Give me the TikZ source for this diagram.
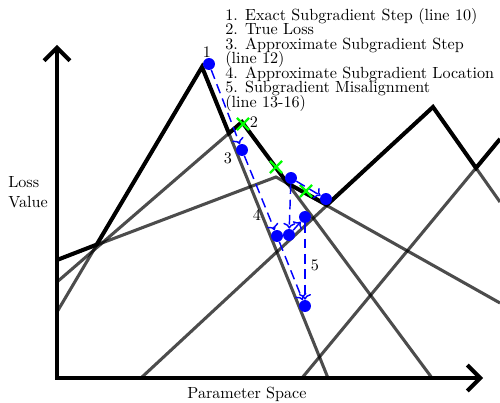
\documentclass[tikz,border=0pt]{standalone}
\usetikzlibrary{arrows.meta,shapes.misc}

\newcommand*{\xmin}{57}
\newcommand*{\xmax}{483}
\newcommand*{\ymin}{378}
\newcommand*{\ymax}{45}

\begin{document}
\begin{tikzpicture}
[
	x=0.62pt, y=-0.62pt,
	loss/.style={line width=2.5pt},
	piece/.style={line width=1.9pt,draw=black,draw opacity=0.7},
	barb/.tip={Straight Barb[length=8pt,width=16pt]},
	bluept/.style={circle,fill=blue,inner sep=0pt,minimum size=7.4pt},
	greenpt/.style={cross out,draw=green,line width=1.5pt,inner sep=0pt,minimum size=6pt},
	stepline/.style={->,blue,line width=0.9pt,dash pattern=on 6pt off 3.5pt}
]
	\useasboundingbox (0,0) rectangle (500,403);

	% linear pieces
	\draw[piece] (57,312) -- (202,67) -- (328,378);
	\draw[piece] (57,282) -- (242,122) -- (432,378);
	\draw[piece] (57,260) -- (276,177) -- (500,303);
	\draw[piece] (141,378) -- (433,107) -- (500,202);
	\draw[piece] (302,378) -- (500,139);

	% true loss
	\draw[loss] (57,260) -- (96.7,244.6) -- (202,67) -- (228.9,133.3) -- (242,122)
		-- (287.5,183.3) -- (326.9,204.9) -- (433,107) -- (476,168) -- (500,139);

	% axes
	\draw[line width=2.5pt,barb-barb] (\xmin,\ymax) -- (\xmin,\ymin) -- (\xmax,\ymin);
	\node (xlab) at (247,394) {Parameter Space};
	\node[align=left] (ylab) at (28,192) {Loss\\Value};

	% legend
	\node[anchor=north west,align=left,inner sep=0pt,
		font={\fontsize{10}{9}\selectfont\lineskiplimit=-10pt}] (legend) at (225,8)
		{1. Exact Subgradient Step (line 10)\\
		 2. True Loss\\
		 3. Approximate Subgradient Step\\
		 (line 12)\\
		 4. Approximate Subgradient Location\\
		 5. Subgradient Misalignment\\
		 (line 13-16)};

	% true loss points
	\node[greenpt] (g1) at (243,124) {};
	\node[greenpt] (g2) at (276,167) {};
	\node[greenpt] (g3) at (306,191) {};

	% iterates
	\node[bluept] (p1) at (209,64) {};
	\node[bluept] (p3) at (242,150) {};
	\node[bluept] (q1) at (277,236) {};
	\node[bluept] (q2) at (289,235) {};
	\node[bluept] (s) at (291,178) {};
	\node[bluept] (t) at (326,199) {};
	\node[bluept] (u) at (305,217) {};
	\node[bluept] (r) at (305,306) {};

	\draw[stepline] (p1) -- (p3);
	\draw[stepline] (p3) -- (q1);
	\draw[stepline] (q1) -- (r);
	\draw[stepline] (s) -- (q2);
	\draw[stepline] (s) -- (t);
	\draw[stepline] (q2) -- (u);
	\draw[stepline] (u) -- (r);

	% numbers
	\node (n1) at (207,52) {1};
	\node (n2) at (254,122) {2};
	\node (n3) at (228,158) {3};
	\node (n4) at (257,215) {4};
	\node (n5) at (315,265) {5};

\end{tikzpicture}
\end{document}
